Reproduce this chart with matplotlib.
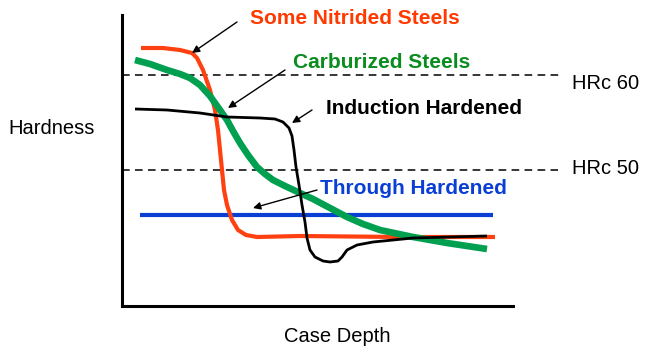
import matplotlib
matplotlib.use("Agg")
import matplotlib.pyplot as plt

plt.rcParams['font.family'] = ['Liberation Sans', 'DejaVu Sans']

# case depth / hardness, arbitrary units
nitrided_x = [19, 41, 58, 70, 75, 81, 88, 93, 96, 98, 100, 102, 105, 110, 116, 124, 135, 178, 278, 373]
nitrided_y = [258, 258, 256, 253, 248, 236, 216, 196, 176, 156, 136, 116, 101, 86, 76, 71, 69, 70, 69, 69]

carburized_x = [13, 28, 45, 58, 68, 78, 88, 98, 105, 111, 118, 126, 135, 143, 151, 163, 178, 191, 208,
                225, 241, 258, 291, 325, 365]
carburized_y = [246, 242, 236, 232, 228, 221, 210, 196, 186, 175, 163, 151, 139, 132, 126, 120, 113, 107,
                98, 89, 82, 76, 69, 63, 57]

induction_x = [13, 45, 78, 105, 138, 153, 161, 167, 170, 172, 174, 177, 180, 183, 185, 188, 193, 201,
               208, 216, 220, 225, 235, 251, 291, 365]
induction_y = [197, 196, 193, 189, 188, 187, 184, 178, 170, 156, 139, 121, 101, 84, 68, 56, 49, 45,
               44, 45, 49, 56, 61, 64, 68, 70]

through_x = [18, 371]
through_y = [91, 91]

hrc_levels = [231, 136]
hrc_ends = [440, 436]
hrc_labels = ["HRc 60", "HRc 50"]

fig = plt.figure(figsize=(6.5, 3.52), dpi=100)
ax = fig.add_axes([122 / 650, 46 / 352, 391 / 650, 291 / 352])
ax.set_xlim(0, 391)
ax.set_ylim(0, 291)
ax.set_xticks([])
ax.set_yticks([])
for s in ['top', 'right']:
    ax.spines[s].set_visible(False)
for s in ['left', 'bottom']:
    ax.spines[s].set_linewidth(2.2)

for lvl, end, lab in zip(hrc_levels, hrc_ends, hrc_labels):
    ax.plot([0, end], [lvl, lvl], color='black', lw=1.1, ls=(0, (5, 3.5)), clip_on=False)
    ax.text(450, lvl - 8 if lab == "HRc 60" else lvl + 2, lab, fontsize=14.5, va='center', ha='left')

ax.plot(through_x, through_y, color='#0a3fd6', lw=3, solid_capstyle='butt')
ax.plot(nitrided_x, nitrided_y, color='#ff4010', lw=3, solid_joinstyle='round', solid_capstyle='butt')
ax.plot(carburized_x, carburized_y, color='#00a050', lw=4.8, solid_joinstyle='round', solid_capstyle='butt')
ax.plot(induction_x, induction_y, color='black', lw=2, solid_joinstyle='round', solid_capstyle='butt')

arrow = dict(arrowstyle='-|>', color='black', lw=1, mutation_scale=11, shrinkA=0, shrinkB=0)
labels = [
    ("Some Nitrided Steels", '#ff3a00', (128, 288), (115, 284), (70, 253)),
    ("Carburized Steels", '#0a8c1e', (171, 244), (163, 236), (106, 198)),
    ("Induction Hardened", 'black', (204, 198), (190, 196), (170, 183)),
    ("Through Hardened", '#0a3fd6', (198, 118), (195, 116), (131, 98)),
]
for txt, col, tpos, tail, head in labels:
    ax.text(tpos[0], tpos[1], txt, color=col, fontsize=15, fontweight='bold', va='center', ha='left',
            clip_on=False)
    ax.annotate('', xy=head, xytext=tail, arrowprops=arrow, annotation_clip=False)

fig.text(8 / 650, 1 - 128 / 352, "Hardness", fontsize=14.5, va='center', ha='left')
fig.text(337 / 650, 1 - 336 / 352, "Case Depth", fontsize=14.5, va='center', ha='center')

fig.savefig("out.png", dpi=100)
